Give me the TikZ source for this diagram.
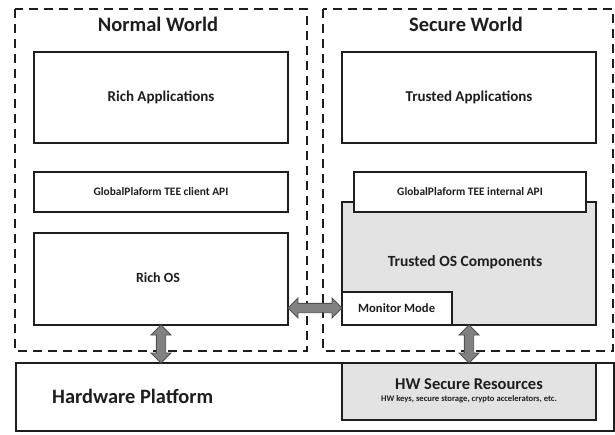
\documentclass[tikz,border=0pt]{standalone}
\usepackage{fontspec}
\setmainfont{Carlito}
\usetikzlibrary{calc}
\definecolor{edge}{HTML}{1E1E1E}
\definecolor{shade}{HTML}{E3E3E3}
\definecolor{arrowfill}{HTML}{818181}
\definecolor{arrowedge}{HTML}{505050}
\begin{document}
\begin{tikzpicture}[x=1pt,y=-1pt,
  world/.style={draw=edge, line width=2.2pt, dash pattern=on 9pt off 6pt},
  box/.style={draw=edge, line width=1.6pt, fill=white},
  gbox/.style={draw=edge, line width=1.6pt, fill=shade},
  lbl/.style={font=\bfseries, text=edge, inner sep=0pt},
  arrowbody/.style={draw=arrowedge, fill=arrowfill, line width=0.9pt, line join=miter},
  pics/fatarrow/.style={code={
    \path[arrowbody] (0,0) -- (10,10) -- (10,4.7) -- (#1-10,4.7) -- (#1-10,10)
      -- (#1,0) -- (#1-10,-10) -- (#1-10,-4.7) -- (10,-4.7) -- (10,-10) -- cycle;
  }},
]
\useasboundingbox (0,0) rectangle (615,435);
\fill[white] (0,0) rectangle (615,435);

% the two worlds
\draw[world] (15,9) rectangle (307,351);
\draw[world] (323,9) rectangle (613,351);
\node[lbl, font=\bfseries\fontsize{20.5}{22}\selectfont] (nwt) at (158,24) {Normal World};
\node[lbl, font=\bfseries\fontsize{20.5}{22}\selectfont] (swt) at (466,24) {Secure World};

% normal world stack
\draw[box] (34,52) rectangle (288,143) node[midway, lbl, font=\bfseries\fontsize{15}{17}\selectfont] (ra) {Rich Applications};
\draw[box] (34,172) rectangle (288,212) node[midway, lbl, font=\bfseries\fontsize{11.4}{13}\selectfont] (capi) {GlobalPlaform TEE client API};
\draw[box] (34,233) rectangle (288,325);
\node[lbl, font=\bfseries\fontsize{14}{16}\selectfont] (ros) at (158,278) {Rich OS};

% secure world stack
\draw[box] (342,52) rectangle (596,143) node[midway, lbl, font=\bfseries\fontsize{15}{17}\selectfont] (ta) {Trusted Applications};
\draw[gbox] (342,202) rectangle (596,325);
\node[lbl, font=\bfseries\fontsize{15.5}{18}\selectfont] (tos) at (465,262) {Trusted OS Components};
\draw[box] (354,172) rectangle (586,212) node[midway, lbl, font=\bfseries\fontsize{11.4}{13}\selectfont] (iapi) {GlobalPlaform TEE internal API};
\draw[box] (342,292) rectangle (452,325);
\node[lbl, font=\bfseries\fontsize{12.6}{14}\selectfont, anchor=west] (mm) at (358,308) {Monitor Mode};

% hardware
\draw[box] (16,363) rectangle (614,431);
\node[lbl, font=\bfseries\fontsize{20.4}{23}\selectfont, anchor=west] (hwp) at (52,396) {Hardware Platform};
\draw[gbox] (342,363) rectangle (596,420);
\node[lbl, font=\bfseries\fontsize{16.5}{19}\selectfont] (hsr) at (469,384) {HW Secure Resources};
\node[lbl, font=\bfseries\fontsize{8.6}{10}\selectfont] (hsd) at (469,399) {HW keys, secure storage, crypto accelerators, etc.};

% connector end points on the box edges
\coordinate (a1) at (161,325);
\coordinate (b1) at (469,325);
\coordinate (c1) at (288,308);

% two-headed block arrows
\pic[rotate=-90] (va) at (a1) {fatarrow=38};
\pic[rotate=-90] (vb) at (b1) {fatarrow=38};
\pic (hc) at (c1) {fatarrow=54};
\end{tikzpicture}
\end{document}
